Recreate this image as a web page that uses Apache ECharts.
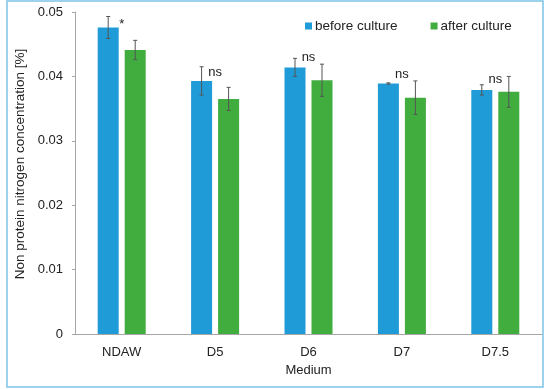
<!DOCTYPE html>
<html>
<head>
<meta charset="utf-8">
<script src="https://cdn.jsdelivr.net/npm/echarts@6/dist/echarts.min.js"></script>
<style>html,body{margin:0;padding:0;background:#fff}#c{width:550px;height:389px}</style>
</head>
<body>
<div id="c"></div>
<script>
var categories = ['NDAW', 'D5', 'D6', 'D7', 'D7.5'];
var beforeValues = [0.0476, 0.0393, 0.0414, 0.0389, 0.0379];
var beforeErrors = [0.0017, 0.0022, 0.0014, 0.0001, 0.0008];
var afterValues = [0.0441, 0.0365, 0.0394, 0.0367, 0.0376];
var afterErrors = [0.0015, 0.0018, 0.0025, 0.0026, 0.0024];
var sigLabels = ['*', 'ns', 'ns', 'ns', 'ns'];
var sigLevels = [0.0480, 0.0406, 0.0430, 0.0403, 0.0396];

var BLUE = '#1f9bd7', GREEN = '#41ad3f';
var BAR_W = 21, BAR_GAP = 6;
var FONT = 'Liberation Sans, Arial, sans-serif';

function errItem(values, errors, sign) {
  return function (params, api) {
    var i = api.value(0);
    var v = values[i], e = errors[i];
    var off = sign * (BAR_W + BAR_GAP) / 2;
    var top = api.coord([i, v + e]);
    var bot = api.coord([i, v - e]);
    var x = top[0] + off;
    var cap = 2;
    var st = { stroke: '#555', lineWidth: 1 };
    return {
      type: 'group',
      children: [
        { type: 'line', shape: { x1: x, y1: top[1], x2: x, y2: bot[1] }, style: st },
        { type: 'line', shape: { x1: x - cap, y1: top[1], x2: x + cap, y2: top[1] }, style: st },
        { type: 'line', shape: { x1: x - cap, y1: bot[1], x2: x + cap, y2: bot[1] }, style: st }
      ]
    };
  };
}

var idx = categories.map(function (c, i) { return [i]; });

var chart = echarts.init(document.getElementById('c'));
chart.setOption({
  animation: false,
  textStyle: { fontFamily: FONT },
  graphic: [{
    type: 'rect', shape: { x: 7, y: 1, width: 536, height: 386 },
    style: { fill: 'none', stroke: '#7cc4e8', lineWidth: 1.5 }, silent: true
  }],
  legend: {
    left: 300, top: 14, itemWidth: 7, itemHeight: 7, itemGap: 33,
    icon: 'rect',
    textStyle: { fontSize: 13.5, color: '#222', fontFamily: FONT, padding: [0, 0, 0, -2] },
    data: ['before culture', 'after culture']
  },
  grid: { left: 75, right: 8, top: 12, bottom: 55 },
  xAxis: {
    type: 'category', data: categories,
    name: 'Medium', nameLocation: 'middle', nameGap: 30,
    nameTextStyle: { fontSize: 13, color: '#222', fontFamily: FONT },
    axisLine: { lineStyle: { color: '#a6a6a6' } },
    axisTick: { show: false },
    axisLabel: { fontSize: 13, color: '#222', margin: 12, fontFamily: FONT }
  },
  yAxis: {
    type: 'value', min: 0, max: 0.05, interval: 0.01,
    name: 'Non protein nitrogen concentration [%]', nameLocation: 'middle', nameGap: 46,
    nameTextStyle: { fontSize: 13.5, color: '#222', fontFamily: FONT, padding: [0, 0, 0, 18] },
    axisLine: { show: true, lineStyle: { color: '#a6a6a6' } },
    axisTick: { show: true, length: 3, lineStyle: { color: '#a6a6a6' } },
    splitLine: { show: false },
    axisLabel: {
      fontSize: 13, color: '#222', margin: 12, fontFamily: FONT,
      formatter: function (v) { return v === 0 ? '0' : v.toFixed(2); }
    }
  },
  series: [
    { name: 'before culture', type: 'bar', data: beforeValues, barWidth: BAR_W, barGap: (BAR_GAP / BAR_W * 100) + '%', itemStyle: { color: BLUE } },
    { name: 'after culture', type: 'bar', data: afterValues, barWidth: BAR_W, itemStyle: { color: GREEN } },
    { type: 'custom', data: idx, renderItem: errItem(beforeValues, beforeErrors, -1), z: 5, silent: true },
    { type: 'custom', data: idx, renderItem: errItem(afterValues, afterErrors, 1), z: 5, silent: true },
    {
      type: 'custom', data: idx, z: 6, silent: true,
      renderItem: function (params, api) {
        var i = api.value(0);
        var p = api.coord([i, sigLevels[i]]);
        return {
          type: 'text',
          style: { x: p[0], y: p[1], text: sigLabels[i], textAlign: 'center', textVerticalAlign: 'middle', fill: '#222', font: '13px ' + FONT }
        };
      }
    }
  ]
});
</script>
</body>
</html>
